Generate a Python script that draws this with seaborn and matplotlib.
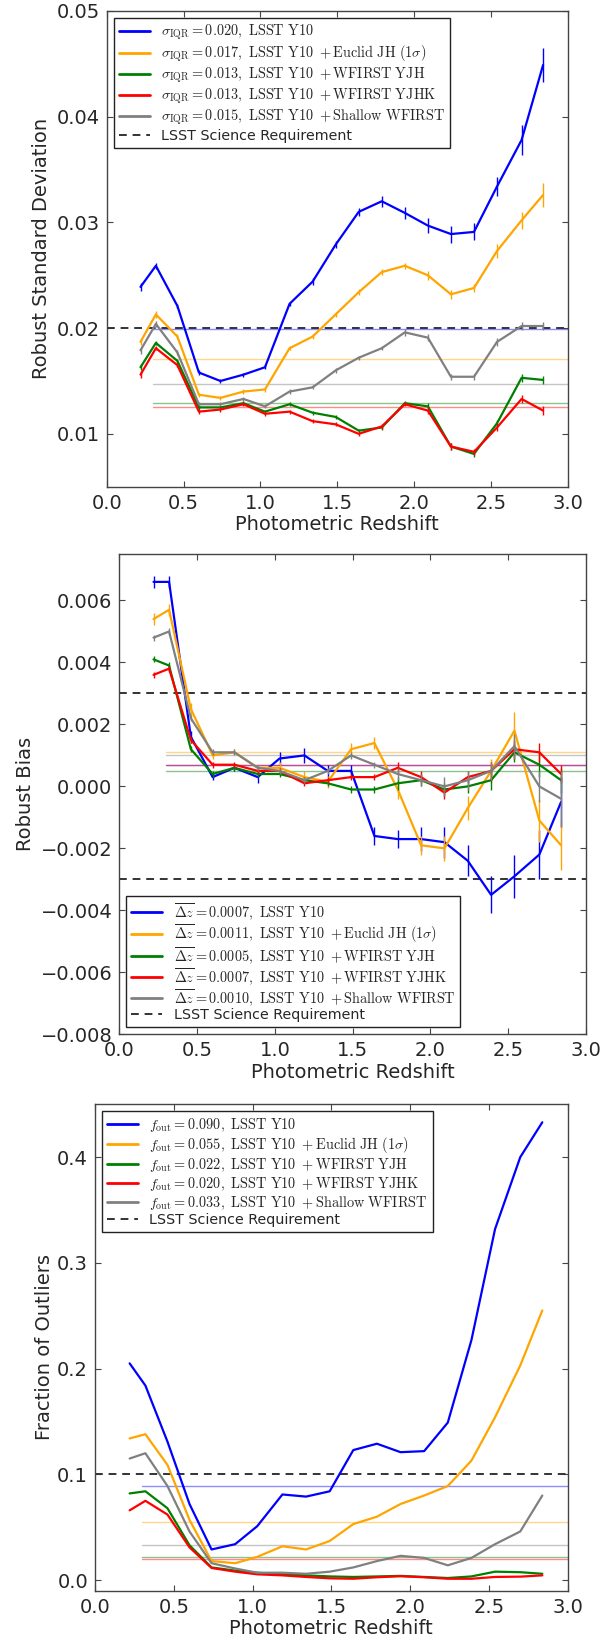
import numpy as np
import pandas as pd
import matplotlib
matplotlib.use("Agg")
import matplotlib.pyplot as plt
import seaborn as sns

sns.set_style("ticks")
plt.rcParams['font.family'] = ['DejaVu Sans']
plt.rcParams['mathtext.fontset'] = 'cm'
plt.rcParams['axes.unicode_minus'] = True

# ---------------- data ----------------
z = [0.22, 0.32, 0.46, 0.60, 0.74, 0.89, 1.03, 1.19, 1.34, 1.49,
     1.64, 1.79, 1.94, 2.09, 2.24, 2.39, 2.54, 2.70, 2.84]

series_names = ["LSST Y10", "LSST Y10 + Euclid JH (1σ)", "LSST Y10 + WFIRST YJH",
                "LSST Y10 + WFIRST YJHK", "LSST Y10 + Shallow WFIRST"]
series_colors = ["blue", "orange", "green", "red", "gray"]
name_tex = [r"{\rm LSST\ Y10}", r"{\rm LSST\ Y10}\ +{\rm Euclid\ JH\ }(1\sigma)",
            r"{\rm LSST\ Y10}\ +{\rm WFIRST\ YJH}", r"{\rm LSST\ Y10}\ +{\rm WFIRST\ YJHK}",
            r"{\rm LSST\ Y10}\ +{\rm Shallow\ WFIRST}"]

# Panel 1: robust standard deviation
std_blue = [0.0239, 0.0259, 0.0221, 0.0158, 0.0150, 0.0156, 0.0163, 0.0223, 0.0244, 0.0279,
            0.0310, 0.0320, 0.0309, 0.0297, 0.0289, 0.0291, 0.0334, 0.0378, 0.0449]
std_orange = [0.0187, 0.0213, 0.0192, 0.0137, 0.0134, 0.0140, 0.0142, 0.0181, 0.0192, 0.0213,
              0.0234, 0.0253, 0.0259, 0.0250, 0.0232, 0.0238, 0.0273, 0.0302, 0.0326]
std_green = [0.0163, 0.0186, 0.0169, 0.0125, 0.0125, 0.0129, 0.0121, 0.0128, 0.0120, 0.0116,
             0.0103, 0.0106, 0.0129, 0.0126, 0.0088, 0.0081, 0.0110, 0.0153, 0.0151]
std_red = [0.0156, 0.0181, 0.0165, 0.0121, 0.0123, 0.0128, 0.0119, 0.0121, 0.0112, 0.0109,
           0.0100, 0.0107, 0.0128, 0.0122, 0.0088, 0.0083, 0.0106, 0.0133, 0.0122]
std_gray = [0.0179, 0.0204, 0.0177, 0.0128, 0.0128, 0.0133, 0.0126, 0.0140, 0.0144, 0.0160,
            0.0172, 0.0181, 0.0196, 0.0191, 0.0154, 0.0154, 0.0187, 0.0202, 0.0202]
std_err_blue = [0.0004, 0.0003, 0.0002, 0.0002, 0.0002, 0.0002, 0.0002, 0.0002, 0.0003, 0.0003,
                0.0004, 0.0005, 0.0006, 0.0007, 0.0008, 0.0008, 0.0009, 0.0014, 0.0016]
std_err_orange = [0.0003, 0.0003, 0.0002, 0.0002, 0.0002, 0.0002, 0.0002, 0.0002, 0.0002, 0.0002,
                  0.0003, 0.0003, 0.0003, 0.0004, 0.0004, 0.0004, 0.0007, 0.0008, 0.0011]
std_err_green = [0.0003, 0.0002, 0.0002, 0.0002, 0.0002, 0.0002, 0.0002, 0.0002, 0.0002, 0.0002,
                 0.0002, 0.0002, 0.0002, 0.0003, 0.0003, 0.0003, 0.0003, 0.0004, 0.0004]
std_err_red = [0.0003, 0.0002, 0.0002, 0.0002, 0.0002, 0.0002, 0.0002, 0.0002, 0.0002, 0.0002,
               0.0002, 0.0002, 0.0002, 0.0003, 0.0003, 0.0003, 0.0003, 0.0004, 0.0004]
std_err_gray = [0.0003, 0.0003, 0.0002, 0.0002, 0.0002, 0.0002, 0.0002, 0.0002, 0.0002, 0.0002,
                0.0002, 0.0002, 0.0003, 0.0003, 0.0003, 0.0003, 0.0004, 0.0004, 0.0004]
std_summary = [0.020, 0.017, 0.013, 0.013, 0.015]
std_mean_lines = [0.0199, 0.0171, 0.0129, 0.0125, 0.0147]
std_requirement = [0.02]

# Panel 2: robust bias
bias_blue = [0.0066, 0.0066, 0.0016, 0.0003, 0.0006, 0.0003, 0.0009, 0.0010, 0.0005, 0.0005,
             -0.0016, -0.0017, -0.0017, -0.0018, -0.0024, -0.0035, -0.0029, -0.0022, -0.0005]
bias_orange = [0.0054, 0.0057, 0.0025, 0.0010, 0.0011, 0.0006, 0.0006, 0.0003, 0.00015, 0.0012,
               0.0014, -0.0001, -0.0019, -0.0020, -0.0007, 0.0005, 0.0018, -0.0011, -0.0019]
bias_green = [0.0041, 0.0039, 0.0012, 0.0004, 0.0006, 0.0004, 0.0004, 0.0002, 0.0001, -0.0001,
              -0.0001, 0.0001, 0.0002, -0.0001, 0.0000, 0.0002, 0.0011, 0.0007, 0.0002]
bias_red = [0.0036, 0.0038, 0.0015, 0.0007, 0.0007, 0.0005, 0.0005, 0.0001, 0.0002, 0.0003,
            0.0003, 0.0006, 0.0003, -0.0002, 0.0003, 0.0005, 0.0012, 0.0011, 0.0004]
bias_gray = [0.0048, 0.0050, 0.0022, 0.0011, 0.0011, 0.0006, 0.0005, 0.0002, 0.0005, 0.0010,
             0.0007, 0.0004, 0.0002, 0.0000, 0.0002, 0.0005, 0.0013, 0.0000, -0.0004]
bias_err_blue = [0.0002, 0.0002, 0.0002, 0.0001, 0.0001, 0.0002, 0.0002, 0.00025, 0.0002, 0.0002,
                 0.0003, 0.0003, 0.0004, 0.0005, 0.0005, 0.0006, 0.0007, 0.0008, 0.0008]
bias_err_orange = [0.0002, 0.0002, 0.0002, 0.0001, 0.0001, 0.0001, 0.0002, 0.0002, 0.0002, 0.0002,
                   0.0002, 0.0003, 0.0003, 0.0004, 0.0004, 0.0004, 0.0006, 0.0007, 0.0008]
bias_err_green = [0.0001, 0.0001, 0.0001, 0.0001, 0.0001, 0.0001, 0.0001, 0.0001, 0.0001, 0.0001,
                  0.0001, 0.0002, 0.0002, 0.0002, 0.0002, 0.0003, 0.0003, 0.0004, 0.0004]
bias_err_red = [0.0001, 0.0001, 0.0001, 0.0001, 0.0001, 0.0001, 0.0001, 0.0001, 0.0001, 0.0001,
                0.0001, 0.0002, 0.0002, 0.0002, 0.0002, 0.0003, 0.0003, 0.0003, 0.0003]
bias_err_gray = [0.0001, 0.0001, 0.0001, 0.0001, 0.0001, 0.0001, 0.0001, 0.0001, 0.0001, 0.0001,
                 0.0001, 0.0002, 0.0002, 0.0003, 0.0003, 0.0003, 0.0004, 0.0005, 0.0009]
bias_summary = ["0.0007", "0.0011", "0.0005", "0.0007", "0.0010"]
bias_mean_lines = [0.0007, 0.0011, 0.0005, 0.0007, 0.0010]
bias_requirement = [0.003, -0.003]

# Panel 3: fraction of outliers
out_blue = [0.205, 0.184, 0.131, 0.072, 0.029, 0.034, 0.051, 0.081, 0.079, 0.084,
            0.123, 0.129, 0.121, 0.122, 0.149, 0.227, 0.332, 0.400, 0.433]
out_orange = [0.134, 0.138, 0.109, 0.057, 0.018, 0.016, 0.022, 0.032, 0.029, 0.037,
              0.053, 0.060, 0.072, 0.080, 0.089, 0.113, 0.154, 0.203, 0.255]
out_green = [0.082, 0.084, 0.068, 0.033, 0.012, 0.009, 0.007, 0.0055, 0.0045, 0.0035,
             0.003, 0.0035, 0.004, 0.003, 0.002, 0.0035, 0.008, 0.0075, 0.006]
out_red = [0.066, 0.075, 0.062, 0.031, 0.0115, 0.008, 0.0055, 0.0045, 0.003, 0.0017,
           0.0013, 0.0027, 0.0037, 0.0027, 0.0013, 0.0013, 0.003, 0.0033, 0.0045]
out_gray = [0.115, 0.120, 0.089, 0.046, 0.016, 0.011, 0.007, 0.007, 0.006, 0.008,
            0.012, 0.018, 0.023, 0.021, 0.014, 0.021, 0.034, 0.046, 0.080]
out_summary = ["0.090", "0.055", "0.022", "0.020", "0.033"]
out_mean_lines = [0.089, 0.055, 0.022, 0.020, 0.033]
out_requirement = [0.1]

x_ticks = [0.0, 0.5, 1.0, 1.5, 2.0, 2.5, 3.0]
x_tick_labels = ["0.0", "0.5", "1.0", "1.5", "2.0", "2.5", "3.0"]
std_ticks = [0.01, 0.02, 0.03, 0.04, 0.05]
bias_ticks = [-0.008, -0.006, -0.004, -0.002, 0.000, 0.002, 0.004, 0.006]
out_ticks = [0.0, 0.1, 0.2, 0.3, 0.4]

# ---------------- figure ----------------
W, H = 603, 1645
fig = plt.figure(figsize=(W / 100, H / 100), dpi=100)


def add_ax(l, t, r, b):
    return fig.add_axes([l / W, 1 - b / H, (r - l) / W, (b - t) / H])


ax1 = add_ax(106.7, 11, 567.7, 486.7)
ax2 = add_ax(119.3, 554, 586, 1034.3)
ax3 = add_ax(95, 1104.3, 567.5, 1590.7)

spine_col = "#444444"
TICK_FS = 14
LAB_FS = 14
LEG_FS = 10.3


def style_ax(ax):
    for s in ax.spines.values():
        s.set_color(spine_col)
        s.set_linewidth(1.0)
    ax.tick_params(direction="in", top=True, right=True, length=4, width=0.8,
                   color=spine_col, labelsize=TICK_FS, pad=5)
    ax.set_xlim(0, 3)
    ax.set_xticks(x_ticks)
    ax.set_xticklabels(x_tick_labels)
    ax.set_xlabel("Photometric Redshift", fontsize=LAB_FS, labelpad=2)


def draw_panel(ax, ys, errs, mean_lines, req, labels, leg_loc, spacing):
    handles = []
    for y, e, c, lab in zip(ys, errs, series_colors, labels):
        df = pd.DataFrame({"z": z, "v": y})
        sns.lineplot(data=df, x="z", y="v", color=c, lw=1.6, ax=ax, label=lab,
                     legend=False, zorder=3)
        if e is not None:
            ax.errorbar(z, y, yerr=e, fmt="none", ecolor=c, elinewidth=1.0,
                        capsize=0, zorder=3)
        handles.append(plt.Line2D([], [], color=c, lw=2.0, label=lab))
    for m, c in zip(mean_lines, series_colors):
        ax.axhline(m, xmin=0.1, xmax=1.0, color=c, lw=1.0, alpha=0.45, zorder=2)
    for r in req:
        ax.axhline(r, color="#333333", lw=1.4, ls=(0, (4, 3)), zorder=2.5)
    handles.append(plt.Line2D([], [], color="#333333", lw=1.4, ls=(0, (4, 3)),
                              label="LSST Science Requirement"))
    leg = ax.legend(handles=handles, loc=leg_loc, fontsize=LEG_FS, frameon=True,
                    fancybox=False, edgecolor="#222222", framealpha=1.0,
                    handlelength=2.15, labelspacing=spacing, borderpad=0.35,
                    handletextpad=0.8)
    leg.get_frame().set_linewidth(1.0)
    return leg


# Panel 1
labels1 = [r"$\sigma_{\rm IQR} = %.3f,\ %s$" % (v, n) for v, n in zip(std_summary, name_tex)]
draw_panel(ax1, [std_blue, std_orange, std_green, std_red, std_gray],
           [std_err_blue, std_err_orange, std_err_green, std_err_red, std_err_gray],
           std_mean_lines, std_requirement, labels1, "upper left", 0.11)
style_ax(ax1)
ax1.set_ylim(0.005, 0.05)
ax1.set_yticks(std_ticks)
ax1.set_yticklabels(["%.2f" % t for t in std_ticks])
ax1.set_ylabel("Robust Standard Deviation", fontsize=LAB_FS, labelpad=4)

# Panel 2
labels2 = [r"$\overline{\Delta z} = %s,\ %s$" % (v, n) for v, n in zip(bias_summary, name_tex)]
draw_panel(ax2, [bias_blue, bias_orange, bias_green, bias_red, bias_gray],
           [bias_err_blue, bias_err_orange, bias_err_green, bias_err_red, bias_err_gray],
           bias_mean_lines, bias_requirement, labels2, "lower left", 0.02)
style_ax(ax2)
ax2.set_ylim(-0.008, 0.0075)
ax2.set_yticks(bias_ticks)
ax2.set_yticklabels([("%.3f" % t).replace("-", "\u2212") for t in bias_ticks])
ax2.set_ylabel("Robust Bias", fontsize=LAB_FS, labelpad=4)

# Panel 3
labels3 = [r"$f_{\rm out} = %s,\ %s$" % (v, n) for v, n in zip(out_summary, name_tex)]
draw_panel(ax3, [out_blue, out_orange, out_green, out_red, out_gray],
           [None] * 5, out_mean_lines, out_requirement, labels3, "upper left", 0.07)
style_ax(ax3)
ax3.set_ylim(-0.01, 0.45)
ax3.set_yticks(out_ticks)
ax3.set_yticklabels(["%.1f" % t for t in out_ticks])
ax3.set_ylabel("Fraction of Outliers", fontsize=LAB_FS, labelpad=2)

fig.savefig("out.png", dpi=100, facecolor="white")
